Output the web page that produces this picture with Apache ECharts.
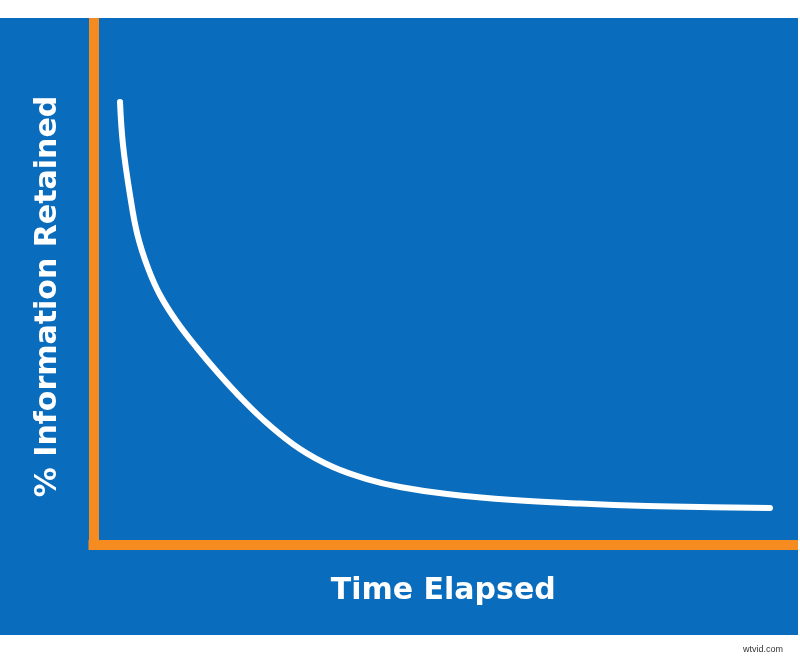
<!DOCTYPE html>
<html>
<head>
<meta charset="utf-8">
<script src="https://cdn.jsdelivr.net/npm/echarts@6/dist/echarts.min.js"></script>
<style>html,body{margin:0;padding:0;background:#fff}#c{width:800px;height:657px}</style>
</head>
<body>
<div id="c"></div>
<script>
// Data (abstract units: time 0-100, retention 0-100)
var timeElapsed = [3.79, 4.22, 5.22, 6.29, 7.79, 9.51, 11.94, 14.80, 17.94, 21.37, 24.95, 29.52, 34.24, 39.10, 43.82, 50.54, 59.97, 69.55, 79.13, 88.56, 96.71];
var retained    = [84.06, 75.90, 66.41, 58.82, 52.56, 47.44, 42.31, 37.38, 32.45, 27.51, 22.96, 18.22, 14.80, 12.52, 11.01, 9.68, 8.54, 7.87, 7.40, 7.15, 7.02];
var xTitle = 'Time Elapsed';
var yTitle = '% Information Retained';
var watermark = 'wtvid.com';

var BLUE = '#0a6cbc';
var ORANGE = '#f68b1f';
var FONT = '"DejaVu Sans", "Open Sans", sans-serif';

var pts = timeElapsed.map(function (t, i) { return [t, retained[i]]; });

var chart = echarts.init(document.getElementById('c'), null, { renderer: 'canvas' });
chart.setOption({
  backgroundColor: '#ffffff',
  animation: false,
  graphic: [{
    type: 'rect', z: -100, left: 0, top: 18,
    shape: { width: 798, height: 617 },
    style: { fill: BLUE }
  }],
  title: {
    text: watermark, right: 17, top: 645, padding: 0,
    textStyle: { color: '#333', fontSize: 9, fontWeight: 'normal', fontFamily: '"Liberation Sans", Arial, sans-serif' }
  },
  grid: { left: 93.5, right: 7, top: 18, bottom: 112 },
  xAxis: {
    type: 'value', min: 0, max: 100,
    name: xTitle, nameLocation: 'middle', nameGap: 31,
    nameTextStyle: { color: '#fff', fontSize: 30, fontWeight: 'bold', fontFamily: FONT },
    axisLine: { show: true, lineStyle: { color: ORANGE, width: 10, cap: 'square' } },
    axisTick: { show: false }, axisLabel: { show: false }, splitLine: { show: false }
  },
  yAxis: {
    type: 'value', min: 0, max: 100,
    name: yTitle, nameLocation: 'middle', nameGap: 30,
    nameTextStyle: { color: '#fff', fontSize: 30, fontWeight: 'bold', fontFamily: FONT, padding: [0, 30, 0, 0] },
    axisLine: { show: true, lineStyle: { color: ORANGE, width: 10, cap: 'butt' } },
    axisTick: { show: false }, axisLabel: { show: false }, splitLine: { show: false }
  },
  series: [{
    type: 'line', data: pts, smooth: 0.4, symbol: 'none',
    lineStyle: { color: '#fff', width: 6, cap: 'round', join: 'round' }
  }]
});
</script>
</body>
</html>
